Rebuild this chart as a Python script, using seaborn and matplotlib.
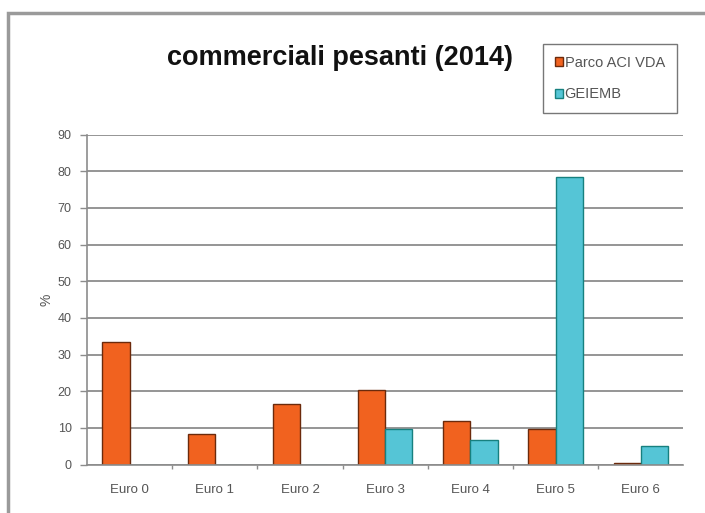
import matplotlib
matplotlib.use("Agg")
import matplotlib.pyplot as plt
import seaborn as sns
import pandas as pd
from matplotlib.patches import Rectangle, Patch
from matplotlib.ticker import FixedLocator

categories = ["Euro 0", "Euro 1", "Euro 2", "Euro 3", "Euro 4", "Euro 5", "Euro 6"]
series_names = ["Parco ACI VDA", "GEIEMB"]
parco_aci_vda = [33.5, 8.2, 16.5, 20.2, 11.8, 9.8, 0.3]
geiemb = [0.0, 0.0, 0.0, 9.8, 6.6, 78.5, 5.1]
y_ticks = [0, 10, 20, 30, 40, 50, 60, 70, 80, 90]

df = pd.DataFrame({
    "categoria": categories * 2,
    "serie": [series_names[0]] * len(categories) + [series_names[1]] * len(categories),
    "valore": parco_aci_vda + geiemb,
})

sns.set_theme(style="white")
plt.rcParams["font.family"] = ["Liberation Sans", "DejaVu Sans"]

fig = plt.figure(figsize=(7.05, 5.13), dpi=100)
ax = fig.add_axes([0.1234, 0.0945, 0.846, 0.6433])

palette = {series_names[0]: "#F1621F", series_names[1]: "#55C5D6"}
sns.barplot(data=df, x="categoria", y="valore", hue="serie", order=categories,
            hue_order=series_names, palette=palette, width=0.64, gap=0,
            saturation=1, ax=ax, legend=False)

edge_colors = {0: "#6b2a0c", 1: "#17807f"}
for i, cont in enumerate(ax.containers):
    for bar in cont:
        bar.set_edgecolor(edge_colors[i])
        bar.set_linewidth(1.0)

ax.set_xlim(-0.5, 6.5)
ax.set_ylim(0, 90)
ax.set_yticks(y_ticks)
ax.yaxis.grid(True, color="#8c8c8c", linewidth=1.3)
ax.set_axisbelow(True)
for s in ["top", "right"]:
    ax.spines[s].set_visible(False)
for s in ["left", "bottom"]:
    ax.spines[s].set_color("#8c8c8c")
    ax.spines[s].set_linewidth(1.2)

ax.tick_params(axis="y", which="major", left=True, length=5, width=1, color="#8c8c8c",
               labelsize=9, labelcolor="#555555", pad=6)
ax.tick_params(axis="x", which="major", bottom=False, labelsize=9.5,
               labelcolor="#555555", pad=8)
ax.xaxis.set_minor_locator(FixedLocator([0.5, 1.5, 2.5, 3.5, 4.5, 5.5]))
ax.tick_params(axis="x", which="minor", bottom=True, length=3, width=1, color="#8c8c8c")

ax.set_xlabel("")
ax.set_ylabel("%", fontsize=10, color="#555555", labelpad=3)

fig.text(0.482, 0.887, "commerciali pesanti (2014)", ha="center", va="center",
         fontsize=19.5, fontweight="bold", color="#111111")

# legend box
handles = [Patch(facecolor=palette[n], edgecolor=edge_colors[i]) for i, n in enumerate(series_names)]
leg = fig.legend(handles, series_names, loc="upper left", bbox_to_anchor=(0.770, 0.914),
                 frameon=True, fancybox=False, fontsize=10.5, handlelength=0.55,
                 handleheight=0.55, handletextpad=0.15, labelspacing=1.2,
                 borderpad=0.8, borderaxespad=0)
leg.get_frame().set_edgecolor("#555555")
leg.get_frame().set_linewidth(1.0)
for t in leg.get_texts():
    t.set_color("#555555")

# outer frame of the chart area
fig.patches.append(Rectangle((0.012, -0.1), 1.2, 1.074, transform=fig.transFigure,
                             fill=False, edgecolor="#9a9a9a", linewidth=2.5))

fig.savefig("out.png", dpi=100)
